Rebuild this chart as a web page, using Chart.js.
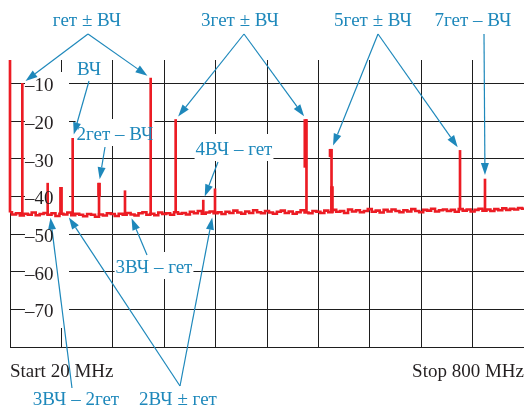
<!DOCTYPE html>
<html>
<head>
<meta charset="utf-8">
<script src="https://cdn.jsdelivr.net/npm/chart.js@4.4.1/dist/chart.umd.min.js"></script>
<style>
  html, body { margin: 0; padding: 0; background: #fff; }
</style>
</head>
<body>
<canvas id="spectrum" width="524" height="410"></canvas>
<script>
'use strict'

// Span of the analyzer (MHz) and the dBm grid
const startFreq = 20
const stopFreq = 800
const xGrid = [20, 98, 176, 254, 332, 410, 488, 566, 644, 722, 800]
const yGrid = [-80, -70, -60, -50, -40, -30, -20, -10]
const yTop = -3.8

// Noise floor, one sample every 6 MHz from the start
const noiseStep = 6
const noiseLevels = [
  -44.2, -44.8, -44.5, -45.1, -44.6, -44.9, -44.3, -45.0, -44.7, -44.4,
  -44.9, -44.5, -45.2, -44.6, -44.8, -44.3, -45.0, -44.6, -44.9, -45.3,
  -44.7, -44.9, -45.4, -44.8, -45.1, -44.5, -44.7, -45.2, -44.6, -44.9,
  -44.4, -44.8, -45.1, -44.5, -44.2, -44.9, -44.6, -45.0, -44.3, -44.7,
  -44.5, -44.9, -44.2, -44.6, -44.4, -44.8, -44.1, -44.5, -43.9, -44.6,
  -44.3, -44.0, -44.5, -44.2, -44.7, -44.1, -44.4, -43.8, -44.3, -44.6,
  -44.0, -44.4, -43.7, -44.2, -44.5, -43.9, -44.3, -44.6, -44.1, -43.8,
  -44.4, -44.0, -44.6, -44.2, -43.7, -44.3, -44.5, -43.9, -44.1, -44.4,
  -43.8, -44.2, -43.6, -44.1, -43.9, -44.4, -43.5, -44.0, -43.7, -44.2,
  -43.9, -43.4, -44.1, -43.8, -44.3, -43.6, -44.0, -43.5, -43.9, -44.2,
  -43.7, -44.0, -43.4, -43.9, -44.2, -43.6, -43.8, -43.3, -44.0, -43.7,
  -43.5, -43.9, -43.6, -44.1, -43.4, -43.8, -43.5, -44.0, -43.6, -43.3,
  -43.8, -43.5, -43.9, -43.4, -43.7, -43.2, -43.6, -43.3, -43.5, -43.1, -43.3
]

// Spectral lines (MHz, dBm peak)
const spikeFreq = [20, 38.7, 77.2, 97.4, 115.1, 155.1, 194.5, 233.5, 271.4, 313.3, 331.1, 469.9, 507.9, 702.9, 740.8]
const spikeLevel = [-2, -10.0, -36.5, -37.6, -24.6, -36.5, -38.5, -8.6, -19.6, -41.0, -38.0, -19.6, -27.5, -27.8, -35.4]

// Wider parts of some lines (MHz, dBm from / to)
const boldFreq = [97.4, 155.1, 468.1, 506.4, 508.6]
const boldLow = [-44.6, -40.0, -32.3, -29.5, -44.3]
const boldHigh = [-37.6, -36.5, -19.6, -27.5, -37.4]

// Points on the floor that some arrows point to (MHz, dBm)
const markFreq = [202.1, 80.7, 106.0, 328.0]
const markLevel = [-44.8, -44.6, -44.7, -44.6]

const red = '#ec1c24'
const blue = '#1e88bb'
const gridColor = '#1e1e1e'
const family = '"Liberation Serif", "DejaVu Serif", serif'
const noteFont = '19px ' + family

function floorAt(f) {
  return noiseLevels[Math.round((f - startFreq) / noiseStep)]
}

const noiseData = noiseLevels.map((v, i) => ({x: startFreq + i * noiseStep, y: v}))
const spikeData = spikeFreq.map((f, i) => ({x: f, y: [floorAt(f), spikeLevel[i]]}))
const boldData = boldFreq.map((f, i) => ({x: f, y: [boldLow[i], boldHigh[i]]}))

// Labels with arrows; targets refer to the spike / mark arrays
const notes = [
  {text: 'гет ± ВЧ', x: 87, y: 21, from: [88, 34], to: [['spike', 1], ['spike', 7]]},
  {text: 'ВЧ', x: 89, y: 70, from: [89, 81], to: [['spike', 4]]},
  {text: '2гет – ВЧ', x: 115, y: 135, from: [105, 147], to: [['spike', 5]]},
  {text: '3гет ± ВЧ', x: 240, y: 21, from: [244, 34], to: [['spike', 8], ['spike', 11]]},
  {text: '4ВЧ – гет', x: 234, y: 150, from: [218, 162], to: [['spike', 9]]},
  {text: '5гет ± ВЧ', x: 373, y: 21, from: [378, 34], to: [['spike', 12], ['spike', 13]]},
  {text: '7гет – ВЧ', x: 473, y: 21, from: [484, 34], to: [['spike', 14]]},
  {text: '3ВЧ – гет', x: 154, y: 268, from: [147, 255], to: [['mark', 0]]},
  {text: '3ВЧ – 2гет', x: 76, y: 400, from: [72, 388], to: [['mark', 1]]},
  {text: '2ВЧ ± гет', x: 178, y: 400, from: [180, 386], to: [['mark', 2], ['mark', 3]]}
]

function drawArrow(ctx, x0, y0, x1, y1) {
  const a = Math.atan2(y1 - y0, x1 - x0)
  const gap = 4, head = 12, half = 4
  const tx = x1 - Math.cos(a) * gap
  const ty = y1 - Math.sin(a) * gap
  const bx = tx - Math.cos(a) * head
  const by = ty - Math.sin(a) * head
  ctx.beginPath()
  ctx.moveTo(x0, y0)
  ctx.lineTo(bx, by)
  ctx.stroke()
  ctx.beginPath()
  ctx.moveTo(tx, ty)
  ctx.lineTo(bx + Math.sin(a) * half, by - Math.cos(a) * half)
  ctx.lineTo(bx - Math.sin(a) * half, by + Math.cos(a) * half)
  ctx.closePath()
  ctx.fill()
}

const notePlugin = {
  id: 'notes',
  beforeDatasetsDraw(chart) {
    const ctx = chart.ctx
    ctx.save()
    ctx.fillStyle = '#fff'
    // blank strip behind the level labels
    ctx.fillRect(25, 72, 44, 256)
    ctx.font = noteFont
    notes.forEach(n => {
      const w = ctx.measureText(n.text).width
      ctx.fillRect(n.x - w / 2 - 1, n.y - 16, w + 2, 27)
    })
    ctx.restore()
  },
  afterDatasetsDraw(chart) {
    const {ctx, scales: {x, y}} = chart
    ctx.save()
    ctx.font = noteFont
    ctx.textAlign = 'center'
    ctx.textBaseline = 'middle'
    ctx.fillStyle = blue
    ctx.strokeStyle = blue
    ctx.lineWidth = 1.2
    notes.forEach(n => {
      ctx.fillText(n.text, n.x, n.y)
      n.to.forEach(([kind, i]) => {
        const f = kind === 'spike' ? spikeFreq[i] : markFreq[i]
        const v = kind === 'spike' ? spikeLevel[i] : markLevel[i]
        drawArrow(ctx, n.from[0], n.from[1], x.getPixelForValue(f), y.getPixelForValue(Math.min(v, yTop)))
      })
    })
    ctx.restore()
  }
}

new Chart(document.getElementById('spectrum'), {
  type: 'line',
  data: {
    datasets: [
      {
        type: 'line',
        data: noiseData,
        borderColor: red,
        borderWidth: 2.6,
        pointRadius: 0,
        stepped: 'middle'
      },
      {
        type: 'bar',
        data: spikeData,
        backgroundColor: red,
        barThickness: 2,
        grouped: false,
        clip: {left: 2, top: 0, right: 0, bottom: 0}
      },
      {
        type: 'bar',
        data: boldData,
        backgroundColor: red,
        barThickness: 3,
        grouped: false
      }
    ]
  },
  options: {
    responsive: false,
    animation: false,
    events: [],
    // the mirrored y labels still reserve 2 x padding, so pull the axis left
    layout: {padding: {top: 60, left: -20, right: 0, bottom: 13}},
    plugins: {
      legend: {display: false},
      tooltip: {enabled: false}
    },
    scales: {
      x: {
        type: 'linear',
        min: startFreq,
        max: stopFreq,
        offset: false,
        afterBuildTicks: (axis) => { axis.ticks = xGrid.map(v => ({value: v})) },
        grid: {color: gridColor, drawTicks: false, offset: false},
        border: {display: true, color: gridColor},
        ticks: {
          autoSkip: false,
          maxRotation: 0,
          align: 'inner',
          padding: 0,
          color: '#231f20',
          font: {family: family, size: 19, lineHeight: 2.63},
          callback: (v, i) => i === 0 ? 'Start ' + startFreq + ' MHz'
            : i === xGrid.length - 1 ? 'Stop ' + stopFreq + ' MHz' : ''
        }
      },
      y: {
        type: 'linear',
        min: -80,
        max: yTop,
        afterBuildTicks: (axis) => { axis.ticks = yGrid.map(v => ({value: v})) },
        grid: {color: gridColor, drawTicks: false},
        border: {display: false},
        ticks: {
          mirror: true,
          padding: 15,
          labelOffset: 3,
          z: 1,
          color: '#231f20',
          font: {family: family, size: 19},
          callback: (v) => v === -80 ? '' : '–' + Math.abs(v)
        }
      }
    }
  },
  plugins: [notePlugin]
})
</script>
</body>
</html>
